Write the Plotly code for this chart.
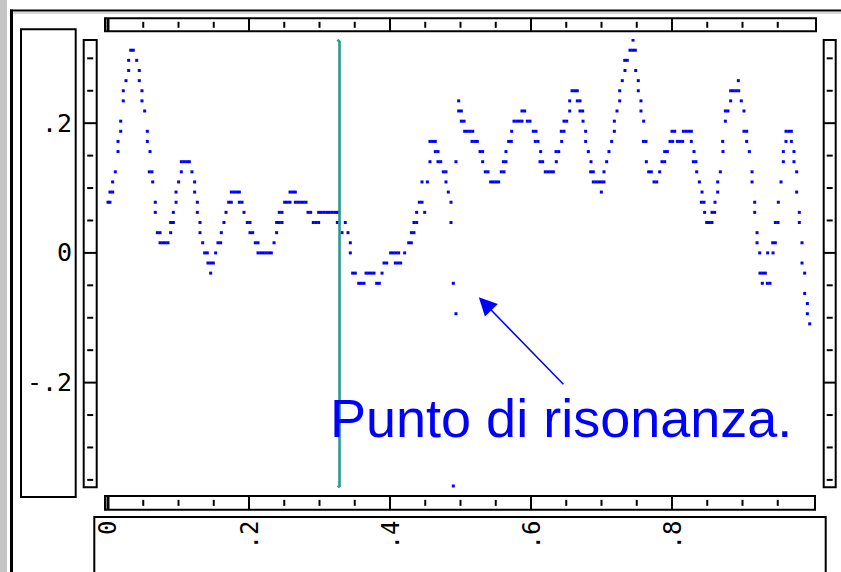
import plotly.graph_objects as go

# ---------------- data ----------------
# quantised signal levels and the times (s) at which a dot sits on each level
sig_levels = [0.3281, 0.3125, 0.2969, 0.2812, 0.2656, 0.25, 0.2344, 0.2188, 0.2031,
              0.1875, 0.1719, 0.1562, 0.1406, 0.125, 0.1094, 0.0938, 0.0781, 0.0625,
              0.0469, 0.0312, 0.0156, 0.0, -0.0156, -0.0312, -0.0469, -0.0625,
              -0.0781, -0.0938, -0.1094, -0.3594]
sig_times = [
    [0.7447],
    [0.0322, 0.0359, 0.7404, 0.7442, 0.7480],
    [0.0293, 0.0407, 0.7329, 0.7366],
    [0.0293, 0.0444, 0.7333, 0.7485],
    [0.0255, 0.0444, 0.7295, 0.7522, 0.8941],
    [0.0217, 0.0482, 0.6582, 0.6619, 0.6657, 0.7258, 0.7522, 0.8832, 0.8870, 0.8908, 0.8946],
    [0.0217, 0.0482, 0.4974, 0.6549, 0.6657, 0.6695, 0.7258, 0.7560, 0.8832, 0.8983],
    [0.0520, 0.4974, 0.5012, 0.5872, 0.5910, 0.6549, 0.6695, 0.6733, 0.7220, 0.7560,
     0.8757, 0.8794, 0.9021],
    [0.0180, 0.5012, 0.5050, 0.5759, 0.5797, 0.5835, 0.5872, 0.5948, 0.5986, 0.6468,
     0.6506, 0.6738, 0.7182, 0.7598, 0.8757],
    [0.0180, 0.0558, 0.5059, 0.5097, 0.5135, 0.5173, 0.5726, 0.6033, 0.6071, 0.6430,
     0.6468, 0.6775, 0.7182, 0.8000, 0.8038, 0.8161, 0.8199, 0.8236, 0.8274, 0.9021,
     0.9059, 0.9617, 0.9655, 0.9693],
    [0.0142, 0.0558, 0.4567, 0.4605, 0.4643, 0.5163, 0.5201, 0.5239, 0.5683, 0.5721,
     0.6061, 0.6099, 0.6435, 0.6775, 0.7144, 0.7594, 0.7631, 0.7972, 0.8009, 0.8076,
     0.8113, 0.8151, 0.8274, 0.8719, 0.9059, 0.9617, 0.9693],
    [0.0142, 0.0596, 0.4643, 0.4681, 0.5277, 0.5314, 0.5645, 0.6137, 0.6355, 0.6393,
     0.6813, 0.7106, 0.7896, 0.7934, 0.8312, 0.8723, 0.9097, 0.9579, 0.9730],
    [0.1040, 0.1078, 0.1116, 0.1154, 0.4567, 0.4681, 0.4719, 0.4936, 0.5314, 0.5608,
     0.5645, 0.6128, 0.6165, 0.6359, 0.6851, 0.7073, 0.7636, 0.7858, 0.7896, 0.8303,
     0.8340, 0.9579, 0.9730],
    [0.0104, 0.0586, 0.0624, 0.1040, 0.1191, 0.4756, 0.4794, 0.5352, 0.5390, 0.5579,
     0.5617, 0.6203, 0.6241, 0.6279, 0.6317, 0.6846, 0.6884, 0.7035, 0.7669, 0.7707,
     0.7825, 0.8350, 0.8686, 0.9135, 0.9768],
    [0.0066, 0.0634, 0.1002, 0.1229, 0.4454, 0.4530, 0.4794, 0.5428, 0.5466, 0.5504,
     0.5541, 0.6884, 0.6922, 0.6960, 0.6998, 0.7035, 0.7745, 0.7783, 0.8388, 0.8648,
     0.9135, 0.9546],
    [0.0028, 0.0066, 0.0965, 0.1229, 0.1749, 0.1787, 0.1825, 0.1863, 0.2582, 0.2619,
     0.2657, 0.4827, 0.6998, 0.8426, 0.8648, 0.9768],
    [0.0000, 0.0028, 0.0671, 0.0965, 0.1267, 0.1712, 0.1749, 0.1863, 0.1901, 0.2506,
     0.2544, 0.2582, 0.2657, 0.2695, 0.2733, 0.2771, 0.2809, 0.4416, 0.4454, 0.4865,
     0.8416, 0.8454, 0.8610, 0.9173, 0.9508],
    [0.0671, 0.0927, 0.1267, 0.1674, 0.1929, 0.2430, 0.2468, 0.2837, 0.2875, 0.2988,
     0.3026, 0.3064, 0.3102, 0.3139, 0.3177, 0.3215, 0.3253, 0.3272, 0.4378, 0.4492,
     0.8463, 0.8567, 0.8605, 0.9173, 0.9806],
    [0.0889, 0.0927, 0.1305, 0.1645, 0.1976, 0.2014, 0.2392, 0.2430, 0.2468, 0.2912,
     0.2950, 0.2988, 0.3253, 0.3366, 0.4340, 0.4378, 0.4865, 0.8492, 0.8530, 0.8567,
     0.9466, 0.9504, 0.9806],
    [0.0700, 0.0738, 0.0889, 0.1305, 0.1607, 0.2014, 0.2052, 0.2392, 0.3319, 0.3404,
     0.4303, 0.4340, 0.9206],
    [0.0738, 0.0775, 0.0813, 0.0851, 0.1343, 0.1560, 0.1598, 0.2090, 0.2128, 0.2355,
     0.3437, 0.4265, 0.4303, 0.9206, 0.9428, 0.9466, 0.9844],
    [0.1371, 0.1409, 0.1527, 0.2128, 0.2166, 0.2203, 0.2241, 0.2279, 0.2317, 0.3437,
     0.4009, 0.4047, 0.4085, 0.4123, 0.4208, 0.9244, 0.9357, 0.9433],
    [0.1418, 0.1456, 0.1494, 0.3915, 0.3953, 0.4076, 0.4113, 0.4151, 0.9844],
    [0.1456, 0.3470, 0.3508, 0.3660, 0.3697, 0.3735, 0.3773, 0.3887, 0.9248, 0.9286,
     0.9324, 0.9882],
    [0.3556, 0.3593, 0.3631, 0.3811, 0.3849, 0.4898, 0.9281, 0.9352, 0.9390],
    [0.9882],
    [0.9920],
    [0.4936, 0.9920],
    [0.9953],
    [0.4898],
]

cursor_x = 0.3284                 # vertical cursor line
cursor_top, cursor_bottom = 0.3257, -0.3595
resonance_x, resonance_y = 0.526, -0.0685     # arrow head
label_x, label_y = 0.648, -0.2048             # arrow tail
note_text = "Punto di risonanza."
note_x, note_y = 0.3115, -0.2546

x_major = [0.0, 0.2, 0.4, 0.6, 0.8]
x_major_text = ["0", ".2", ".4", ".6", ".8"]
y_major = [0.2, 0.0, -0.2]
y_major_text = [".2", "0", "-.2"]

# ---------------- layout geometry ----------------
W, H = 841, 572
ML, MR, MT, MB = 104, 24, 39, 84
PW, PH = W - ML - MR, H - MT - MB
X_RANGE = [-0.00567, 1.00567]
Y_RANGE = [-0.3625, 0.3298]


def xp(px):
    return (px - ML) / PW


def yp(py):
    return (H - MB - py) / PH


xs, ys = [], []
for lev, times in zip(sig_levels, sig_times):
    for t in times:
        xs.append(t)
        ys.append(lev)

fig = go.Figure()
fig.add_trace(go.Scatter(x=xs, y=ys, mode="markers",
                         marker=dict(symbol="square", size=3.0, color="#0000ff",
                                     line=dict(width=0)),
                         hoverinfo="skip", showlegend=False))
fig.add_trace(go.Scatter(x=[cursor_x - 0.0030, cursor_x, cursor_x, cursor_x - 0.0025],
                         y=[cursor_top + 0.003, cursor_top, cursor_bottom, cursor_bottom - 0.002],
                         mode="lines", line=dict(color="#2a9a8e", width=2.6),
                         hoverinfo="skip", showlegend=False))

shapes = []
BLK = "#000000"


def rect(x0, y0, x1, y1, w=2, fill=None, color=BLK):
    d = dict(type="rect", xref="paper", yref="paper",
             x0=xp(x0), x1=xp(x1), y0=yp(y1), y1=yp(y0),
             line=dict(color=color, width=w), layer="above")
    if fill:
        d["fillcolor"] = fill
        d["line"] = dict(width=0)
    shapes.append(d)


# window frame
rect(0, 0, 7, 600, fill="#c4c4c4")
rect(10, 9.5, 13, 600, fill=BLK)
rect(10, 9.5, 845, 11.6, fill=BLK)
rect(13, 12.4, 845, 13.4, fill="#b0b0b0")

# label boxes and axis bars
rect(21, 29.3, 75.7, 497, w=2)
rect(83.7, 40, 96.7, 487.3, w=2)
rect(823.7, 40, 835.7, 487.3, w=2)
rect(105, 18.3, 816, 31.3, w=2)
rect(105, 496, 815, 509.7, w=2)
rect(94.3, 517, 825.7, 600, w=2)

# vertical bars: dividers and minor ticks (data y)
for bx0, bx1 in [(83.7, 96.7), (823.7, 835.7)]:
    mid = (bx0 + bx1) / 2
    for v in y_major:
        shapes.append(dict(type="line", xref="paper", yref="y", x0=xp(bx0), x1=xp(bx1),
                           y0=v, y1=v, line=dict(color=BLK, width=2)))
    for i in range(-7, 7):
        v = round(i * 0.05, 2)
        if abs(round(v / 0.2) * 0.2 - v) < 1e-9:
            continue
        shapes.append(dict(type="line", xref="paper", yref="y", x0=xp(mid - 3), x1=xp(mid + 3),
                           y0=v, y1=v, line=dict(color=BLK, width=2)))

# horizontal bars: dividers and minor ticks (data x)
for by0, by1 in [(18.3, 31.3), (496, 509.7)]:
    mid = (by0 + by1) / 2
    for v in x_major:
        shapes.append(dict(type="line", xref="x", yref="paper", x0=v, x1=v,
                           y0=yp(by0), y1=yp(by1),
                           line=dict(color=BLK, width=3 if v == 0 else 2)))
    for i in range(1, 20):
        v = round(i * 0.05, 2)
        if i % 4 == 0:
            continue
        shapes.append(dict(type="line", xref="x", yref="paper", x0=v, x1=v,
                           y0=yp(mid - 3), y1=yp(mid + 3), line=dict(color=BLK, width=2)))

annotations = []
for v, t in zip(y_major, y_major_text):
    annotations.append(dict(xref="paper", yref="y", x=xp(74), y=v, text=t,
                            xanchor="right", yanchor="middle", showarrow=False,
                            font=dict(family="DejaVu Sans Mono", size=25, color=BLK)))
for v, t in zip(x_major, x_major_text):
    annotations.append(dict(xref="x", yref="paper", x=v, y=yp(519), text=t,
                            textangle=-90, xanchor="center", yanchor="top",
                            showarrow=False,
                            font=dict(family="DejaVu Sans Mono", size=24, color=BLK)))
annotations.append(dict(xref="x", yref="y", x=note_x, y=note_y, text=note_text,
                        xanchor="left", yanchor="middle", showarrow=False,
                        font=dict(family="Liberation Sans", size=54, color="#0000ff")))
annotations.append(dict(xref="x", yref="y", x=resonance_x, y=resonance_y,
                        axref="x", ayref="y", ax=label_x, ay=label_y, text="",
                        showarrow=True, arrowhead=2, arrowsize=2.4, arrowwidth=1.5,
                        arrowcolor="#0000ff"))

fig.update_layout(
    width=W, height=H, autosize=False,
    margin=dict(l=ML, r=MR, t=MT, b=MB, pad=0),
    paper_bgcolor="white", plot_bgcolor="white",
    xaxis=dict(range=X_RANGE, visible=False, fixedrange=True),
    yaxis=dict(range=Y_RANGE, visible=False, fixedrange=True),
    shapes=shapes, annotations=annotations, showlegend=False,
)

fig.write_html("out.html", config=dict(displayModeBar=False))
